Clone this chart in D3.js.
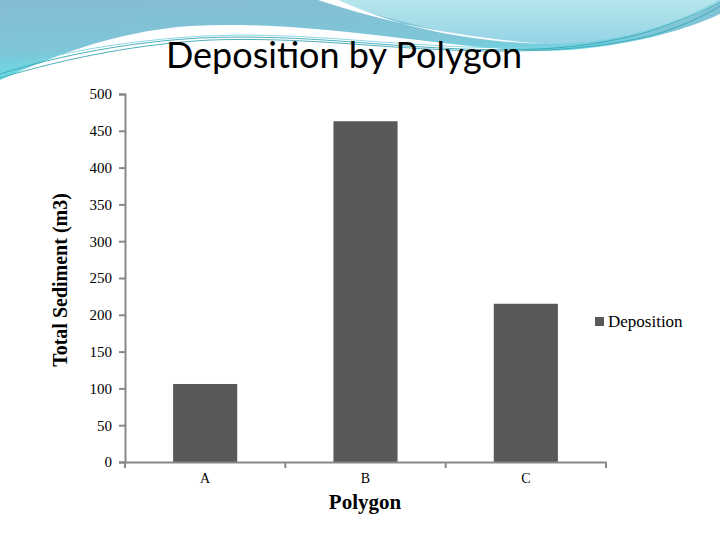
<!DOCTYPE html>
<html><head><meta charset="utf-8">
<script src="https://cdn.jsdelivr.net/npm/d3@7"></script>
<style>html,body{margin:0;padding:0;background:#fff;}svg{display:block;}</style>
</head><body>
<script>
const categories = ["A", "B", "C"];
const deposition = [106, 463, 215];
const yTicks = [0, 50, 100, 150, 200, 250, 300, 350, 400, 450, 500];
const seriesName = "Deposition";

const W = 720, H = 540;
const svg = d3.select("body").append("svg").attr("width", W).attr("height", H);
const defs = svg.append("defs");
const g1 = defs.append("linearGradient").attr("id", "gBlue").attr("x1", 0).attr("y1", 0).attr("x2", 0.3).attr("y2", 1);
g1.append("stop").attr("offset", "0%").attr("stop-color", "#86bcd3");
g1.append("stop").attr("offset", "60%").attr("stop-color", "#7ec6d8");
g1.append("stop").attr("offset", "100%").attr("stop-color", "#5fe0ea");
const g2 = defs.append("linearGradient").attr("id", "gCyan").attr("x1", 0).attr("y1", 0).attr("x2", 0).attr("y2", 1);
g2.append("stop").attr("offset", "0%").attr("stop-color", "#b6e6ec");
g2.append("stop").attr("offset", "100%").attr("stop-color", "#95d3e6");

// decorative header wave
svg.append("path").attr("fill", "url(#gBlue)")
  .attr("d", "M0,0 L720,0 L720,14 C690,28 640,44 570,50 C520,53 470,46 400,38 C330,30 260,22 190,26 C110,32 50,58 0,80 Z");
svg.append("path").attr("fill", "url(#gCyan)")
  .attr("d", "M325,0 L720,0 L720,2 C690,20 640,40 560,44 C500,46 440,34 325,0 Z");
svg.append("path").attr("fill", "#ffffff")
  .attr("d", "M318,0 C390,24 460,37 545,44 C470,41 405,30 338,0 Z");
const wl = svg.append("g").attr("fill", "none").attr("stroke", "#3aa7b5").attr("stroke-width", 0.9);
wl.append("path").attr("d", "M0,74 C60,55 130,42 200,38 C290,34 360,44 440,48 C520,52 580,50 640,34 C680,22 705,10 720,2");
wl.append("path").attr("d", "M0,78 C70,57 140,44 210,40 C300,37 370,47 450,50 C530,53 590,50 650,36 C685,26 707,14 720,6");
wl.append("path").attr("stroke", "#7fd3e0").attr("d", "M0,70 C60,52 130,40 205,36 C290,32 360,42 445,46 C525,50 585,47 645,31 C682,20 705,8 720,0");

// title
svg.append("text").attr("x", 344).attr("y", 68).attr("text-anchor", "middle")
  .attr("font-family", "Lato, 'Open Sans', sans-serif").attr("font-size", 36).attr("fill", "#000")
  .text("Deposition by Polygon");

const x = d3.scaleBand().domain(categories).range([125, 606]).paddingInner(0.6).paddingOuter(0.3);
const y = d3.scaleLinear().domain([0, 500]).range([462, 94]);

// bars
svg.append("g").selectAll("rect").data(categories).join("rect")
  .attr("x", d => x(d)).attr("width", x.bandwidth())
  .attr("y", (d, i) => y(deposition[i])).attr("height", (d, i) => y(0) - y(deposition[i]))
  .attr("fill", "#595959");

// y axis
const yAxis = svg.append("g").attr("transform", "translate(125,0)")
  .call(d3.axisLeft(y).tickValues(yTicks).tickSize(6).tickPadding(7));
yAxis.select(".domain").attr("stroke", "#878787").attr("stroke-width", 2);
yAxis.selectAll(".tick line").attr("stroke", "#878787").attr("stroke-width", 2);
yAxis.selectAll(".tick text").attr("font-family", "'Liberation Serif', serif").attr("font-size", 15).attr("fill", "#000");

// x axis
const xAxis = svg.append("g").attr("transform", "translate(0,462)")
  .call(d3.axisBottom(x).tickSize(0).tickPadding(11));
xAxis.select(".domain").attr("stroke", "#878787").attr("stroke-width", 2);
xAxis.selectAll(".tick text").attr("font-family", "'Liberation Serif', serif").attr("font-size", 14).attr("fill", "#000");
const step = x.step();
const bounds = [125].concat(categories.map(c => x(c) + x.bandwidth() + step * x.paddingInner() / 2));
bounds[bounds.length - 1] = 606;
xAxis.selectAll(".sep").data(bounds).join("line").attr("class", "sep")
  .attr("x1", d => d).attr("x2", d => d).attr("y1", 0).attr("y2", 6)
  .attr("stroke", "#878787").attr("stroke-width", 2);

// axis titles
svg.append("text").attr("x", 365).attr("y", 509).attr("text-anchor", "middle")
  .attr("font-family", "'Liberation Serif', serif").attr("font-weight", "bold").attr("font-size", 21)
  .text("Polygon");
svg.append("text").attr("transform", "translate(67,280) rotate(-90)").attr("text-anchor", "middle")
  .attr("font-family", "'Liberation Serif', serif").attr("font-weight", "bold").attr("font-size", 20)
  .text("Total Sediment (m3)");

// legend
const lg = svg.append("g").attr("transform", "translate(595,317)");
lg.append("rect").attr("width", 9).attr("height", 9).attr("fill", "#595959");
lg.append("text").attr("x", 13).attr("y", 10).attr("font-family", "'Liberation Serif', serif").attr("font-size", 17)
  .text(seriesName);
</script>
</body></html>
